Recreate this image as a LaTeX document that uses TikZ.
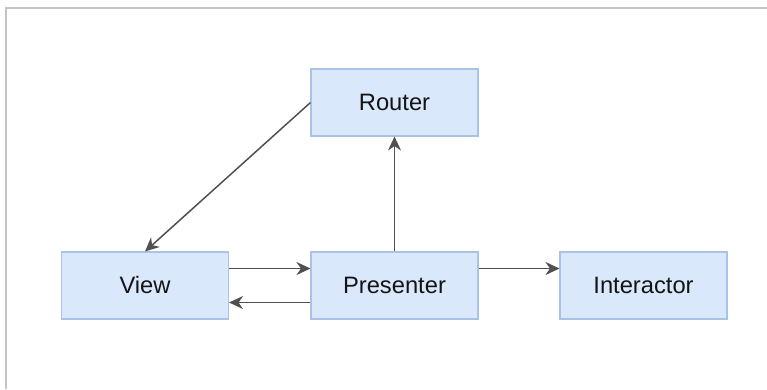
\documentclass[tikz,border=0pt]{standalone}
\usepackage{fontspec}
\setmainfont{Liberation Sans}
\usetikzlibrary{arrows.meta,positioning}
\definecolor{boxfill}{HTML}{DAE8FC}
\definecolor{boxline}{HTML}{A9C2E6}
\definecolor{flowgray}{HTML}{505050}
\definecolor{framegray}{HTML}{C4C4C4}

\begin{document}
\begin{tikzpicture}[
  block/.style={draw=boxline,fill=boxfill,line width=0.6pt,minimum width=3.34cm,minimum height=1.34cm,
    font=\fontsize{13.5}{16}\selectfont,text=black!92},
  flow/.style={-{Stealth[length=2.8mm,width=2.6mm,inset=0.9mm]},draw=flowgray,line width=0.85pt}]
  \useasboundingbox (0,0) rectangle (15.34,7.78);
  % Frame
  \draw[framegray,line width=0.9pt] (0.12,0) -- (0.12,7.62) -- (15.34,7.62);
  % Boxes
  \node[block] (router) at (7.89,5.73) {Router};
  \node[block] (view) at (2.90,2.07) {View};
  \node[block] (presenter) at (7.89,2.07) {Presenter};
  \node[block] (interactor) at (12.87,2.07) {Interactor};
  % Connections
  \draw[flow] ([yshift=0.34cm]view.east) -- ([yshift=0.34cm]presenter.west);
  \draw[flow] ([yshift=-0.34cm]presenter.west) -- ([yshift=-0.34cm]view.east);
  \draw[flow] ([yshift=0.34cm]presenter.east) -- ([yshift=0.34cm]interactor.west);
  \draw[flow] (presenter.north) -- (router.south);
  \draw[flow] (router.west) -- (view.north);
\end{tikzpicture}
\end{document}
